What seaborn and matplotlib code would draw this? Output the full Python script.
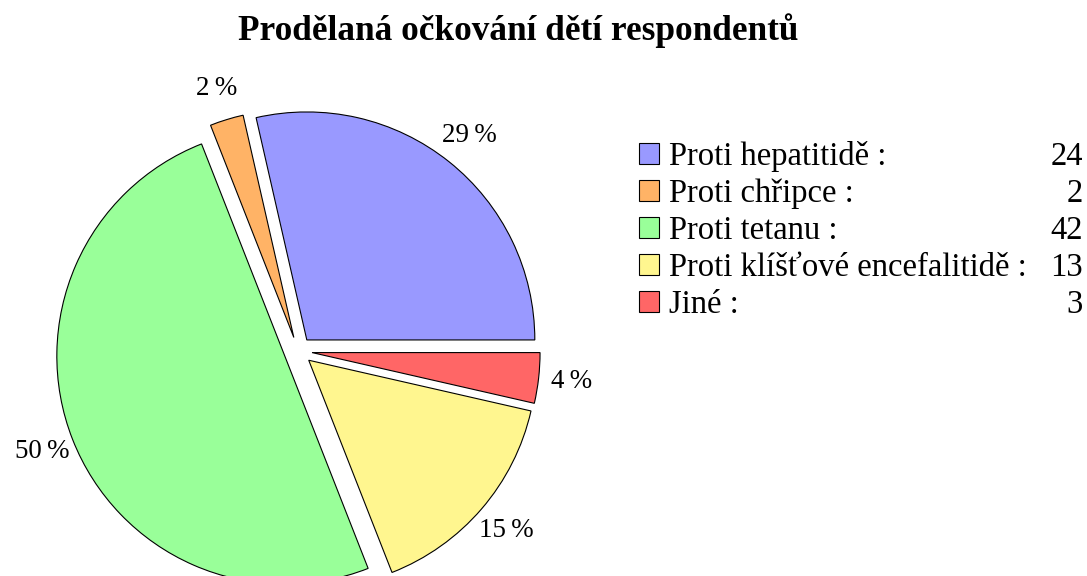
import matplotlib
matplotlib.use("Agg")
import matplotlib.pyplot as plt
from matplotlib.patches import Patch
import seaborn as sns

categories = ["Proti hepatitidě", "Proti chřipce", "Proti tetanu",
              "Proti klíšťové encefalitidě", "Jiné"]
counts = [24, 2, 42, 13, 3]
colors = ["#9999FF", "#FFB366", "#99FF99", "#FFF68F", "#FF6666"]
title = "Prodělaná očkování dětí respondentů"

sns.set_theme(style="white")
plt.rcParams["font.family"] = ["Liberation Serif", "DejaVu Serif"]
plt.rcParams["text.color"] = "black"

W, H = 1087, 576
fig = plt.figure(figsize=(W / 100, H / 100), dpi=100)
renderer = fig.canvas.get_renderer()


def fit_size(text, target_px, weight="normal", base=20.0):
    t = fig.text(0, 0, text, fontsize=base, fontweight=weight)
    w = t.get_window_extent(renderer=renderer).width
    t.remove()
    return base * target_px / w


R = 228.0          # pie radius in px
cx, cy = 298.0, 576 - 351.0
half = 300.0
ax = fig.add_axes([(cx - half) / W, (cy - half) / H, 2 * half / W, 2 * half / H])

pct_size = fit_size("29\u2009%", 55)
wedges, texts, autotexts = ax.pie(
    counts, colors=colors, startangle=0, counterclock=True,
    explode=[0.062] * len(counts),
    autopct=lambda p: f"{p:.0f}\u2009%", pctdistance=1.145,
    wedgeprops=dict(edgecolor="black", linewidth=0.8),
    textprops=dict(fontsize=pct_size, color="black"),
)
ax.set_xlim(-half / R, half / R)
ax.set_ylim(-half / R, half / R)
ax.set_aspect("auto")
ax.axis("off")

title_size = fit_size(title, 560, weight="bold")
fig.text(518 / W, 1 - 31 / H, title, ha="center", va="center",
         fontsize=title_size, fontweight="bold", color="black")

leg_size = fit_size("Proti klíšťové encefalitidě :", 358)
fs_px = leg_size * 100 / 72
handles = [Patch(facecolor=c, edgecolor="black", linewidth=0.8) for c in colors]
labels = [f"{c} :" for c in categories]
leg = fig.legend(handles, labels, loc="upper left",
                 bbox_to_anchor=(639 / W, 1 - 141 / H), frameon=False,
                 fontsize=leg_size, handlelength=20 / fs_px, handleheight=20 / fs_px,
                 handletextpad=10 / fs_px, labelspacing=0.2, borderpad=0,
                 borderaxespad=0)
for t in leg.get_texts():
    t.set_color("black")

fig.canvas.draw()
inv = fig.transFigure.inverted()
for txt, n in zip(leg.get_texts(), counts):
    bb = txt.get_window_extent()
    ymid = (bb.y0 + bb.y1) / 2
    fx, fy = inv.transform((1083, ymid))
    fig.text(fx, fy, str(n), ha="right", va="center", fontsize=leg_size,
             color="black")

fig.savefig("out.png", dpi=100)
